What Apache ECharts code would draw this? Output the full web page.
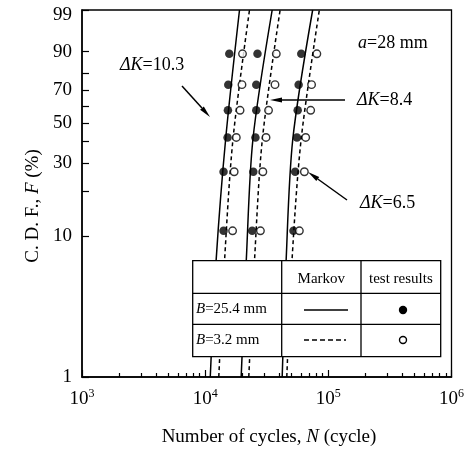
<!DOCTYPE html>
<html>
<head>
<meta charset="utf-8">
<script src="https://cdn.jsdelivr.net/npm/echarts@6/dist/echarts.min.js"></script>
<style>
html, body { margin: 0; padding: 0; background: #fff; }
#chart { width: 467px; height: 449px; }
</style>
</head>
<body>
<div id="chart"></div>
<script>
// probability levels (%) of the six test results (median ranks)
const ranks = [10.9, 26.6, 42.2, 57.8, 73.4, 89.1]
// test results, cycles to failure
const dk103Thick = [14100, 14100, 15200, 15300, 15400, 15700]
const dk103Thin = [16700, 17200, 17900, 19200, 19900, 20100]
const dk84Thick = [24100, 24600, 25600, 26000, 26000, 26600]
const dk84Thin = [28100, 29400, 31200, 32700, 36900, 37800]
const dk65Thick = [52100, 53800, 55600, 56400, 57400, 60300]
const dk65Thin = [58200, 63900, 65500, 71900, 73100, 80700]
// Markov curves, N read at these probability levels (%)
const curveF = [1, 7, 41, 99]
const dk103ThickCurve = [11000, 12300, 14650, 19000]
const dk103ThinCurve = [12900, 14400, 16800, 22900]
const dk84ThickCurve = [19600, 21600, 24400, 35000]
const dk84ThinCurve = [22600, 25200, 29100, 40600]
const dk65ThickCurve = [42200, 45500, 51400, 74600]
const dk65ThinCurve = [46000, 50800, 60100, 84500]
// tick labels
const yMajor = [1, 10, 30, 50, 70, 90, 99]
const yMinor = [20, 40, 60, 80]
const xMajor = [3, 4, 5, 6]
const xMinorMant = [2, 3, 4, 5, 6, 7, 8, 9]

// weibull probability paper
const wb = p => Math.log(-Math.log(1 - p / 100))
const pts = (ns, fs) => ns.map((n, i) => [Math.log10(n), wb(fs[i])])

let xMinor = []
xMajor.slice(0, 3).forEach(e => {
  xMinorMant.forEach(m => xMinor.push(e + Math.log10(m)))
})

const FONT = '"Liberation Serif", "DejaVu Serif", serif'

function dots (name, ns, open) {
  return {
    name: name,
    type: 'scatter',
    symbol: 'circle',
    symbolSize: open ? 7.5 : 8.5,
    itemStyle: open ? {color: '#fff', borderColor: '#000', borderWidth: 1.4} : {color: '#000'},
    z: 5,
    data: pts(ns, ranks)
  }
}
function curve (name, ns, dashed) {
  return {
    name: name,
    type: 'line',
    showSymbol: false,
    smooth: 0.3,
    lineStyle: {color: '#000', width: 1.5, type: dashed ? [4, 3] : 'solid'},
    z: 3,
    data: pts(ns, curveF)
  }
}

function arrow (x1, y1, x2, y2) {
  let a = Math.atan2(y2 - y1, x2 - x1)
  let len = 12
  let w = 2.5
  let bx = x2 - len * Math.cos(a)
  let by = y2 - len * Math.sin(a)
  let nx = -Math.sin(a) * w
  let ny = Math.cos(a) * w
  return [
    {type: 'line', shape: {x1: x1, y1: y1, x2: bx, y2: by}, style: {stroke: '#000', lineWidth: 1.5}},
    {type: 'polygon', shape: {points: [[x2, y2], [bx + nx, by + ny], [bx - nx, by - ny]]}, style: {fill: '#000'}}
  ]
}
function text (x, y, rich, size, align, rot) {
  return {
    type: 'text', x: x, y: y, rotation: rot || 0,
    style: {
      text: rich, fontFamily: FONT, fontSize: size, fill: '#000',
      align: align || 'left', verticalAlign: 'middle',
      rich: {
        i: {fontStyle: 'italic', fontFamily: FONT, fontSize: size},
        n: {fontFamily: FONT, fontSize: size}
      }
    }
  }
}

// legend table
const T = {l: 192.7, t: 260.7, r: 440.7, b: 356.7, c1: 281.7, c2: 361, r1: 293.3, r2: 324.3}
let table = [
  {type: 'rect', shape: {x: T.l, y: T.t, width: T.r - T.l, height: T.b - T.t}, style: {fill: '#fff', stroke: '#000', lineWidth: 1.3}},
  {type: 'line', shape: {x1: T.l, y1: T.r1, x2: T.r, y2: T.r1}, style: {stroke: '#000', lineWidth: 1.3}},
  {type: 'line', shape: {x1: T.l, y1: T.r2, x2: T.r, y2: T.r2}, style: {stroke: '#000', lineWidth: 1.3}},
  {type: 'line', shape: {x1: T.c1, y1: T.t, x2: T.c1, y2: T.b}, style: {stroke: '#000', lineWidth: 1.3}},
  {type: 'line', shape: {x1: T.c2, y1: T.t, x2: T.c2, y2: T.b}, style: {stroke: '#000', lineWidth: 1.3}},
  text((T.c1 + T.c2) / 2, 279, 'Markov', 15, 'center'),
  text((T.c2 + T.r) / 2, 279, 'test results', 15, 'center'),
  text(196, 309, '{i|B}{n|=25.4 mm}', 15),
  text(196, 340, '{i|B}{n|=3.2 mm}', 15),
  {type: 'line', shape: {x1: 304, y1: 310, x2: 348, y2: 310}, style: {stroke: '#000', lineWidth: 1.4}},
  {type: 'line', shape: {x1: 304, y1: 340, x2: 346, y2: 340}, style: {stroke: '#000', lineWidth: 1.4, lineDash: [5, 3]}},
  {type: 'circle', shape: {cx: 403, cy: 310, r: 4.2}, style: {fill: '#000'}},
  {type: 'circle', shape: {cx: 403, cy: 340, r: 3.5}, style: {fill: '#fff', stroke: '#000', lineWidth: 1.4}}
]

let notes = [].concat(
  text(120, 65, '{i|ΔK}{n|=10.3}', 18),
  arrow(182, 86, 210, 117),
  text(358, 43, '{i|a}{n|=28 mm}', 18),
  text(357, 100, '{i|ΔK}{n|=8.4}', 18),
  arrow(345, 100, 270, 100),
  text(360, 203, '{i|ΔK}{n|=6.5}', 18),
  arrow(347, 200, 308, 172),
  text(269, 437, '{n|Number of cycles, }{i|N}{n| (cycle)}', 19, 'center'),
  text(33, 206, '{n|C. D. F., }{i|F}{n| (%)}', 19, 'center', Math.PI / 2)
)
// keep the table and notes above the curves
table.forEach(el => { el.z = 100 })
notes.forEach(el => { el.z = 100 })

let myChart = echarts.init(document.getElementById('chart'))
myChart.setOption({
  animation: false,
  backgroundColor: '#fff',
  grid: {left: 82, top: 10, width: 370.5, height: 367, show: true, borderColor: '#000', borderWidth: 1.3, backgroundColor: 'transparent'},
  xAxis: [
    {
      type: 'value', min: 3, max: 6, interval: 1, position: 'bottom',
      axisLine: {onZero: false, lineStyle: {color: '#000', width: 1.5}},
      axisTick: {inside: true, length: 7, lineStyle: {color: '#000', width: 1.2}},
      splitLine: {show: false},
      axisLabel: {
        margin: 11,
        formatter: v => '{b|10}{s|' + v + '}',
        rich: {
          b: {fontFamily: FONT, fontSize: 19, color: '#000', verticalAlign: 'bottom', lineHeight: 21},
          s: {fontFamily: FONT, fontSize: 12, color: '#000', verticalAlign: 'top', lineHeight: 21}
        }
      }
    },
    {
      type: 'value', min: 3, max: 6, position: 'bottom',
      axisLine: {show: false, onZero: false},
      axisTick: {inside: true, length: 4, customValues: xMinor, lineStyle: {color: '#000', width: 1.2}},
      splitLine: {show: false},
      axisLabel: {show: false}
    }
  ],
  yAxis: {
    type: 'value', min: wb(1), max: wb(99),
    axisLine: {show: true, onZero: false, lineStyle: {color: '#000', width: 1.5}},
    axisTick: {show: true, inside: true, length: 7, customValues: yMajor.concat(yMinor).map(wb), lineStyle: {color: '#000', width: 1.2}},
    splitLine: {show: false},
    axisLabel: {
      margin: 10,
      customValues: yMajor.map(wb),
      formatter: v => {
        let p = Math.round((1 - Math.exp(-Math.exp(v))) * 100)
        // top label sits a little below the frame, as in the original
        return p === 99 ? '{t|' + p + '}' : '{n|' + p + '}'
      },
      rich: {
        n: {fontFamily: FONT, fontSize: 19, color: '#000'},
        t: {fontFamily: FONT, fontSize: 19, color: '#000', padding: [10, 0, 0, 0]}
      }
    }
  },
  series: [
    curve('dK10.3 B25.4', dk103ThickCurve, false),
    curve('dK10.3 B3.2', dk103ThinCurve, true),
    curve('dK8.4 B25.4', dk84ThickCurve, false),
    curve('dK8.4 B3.2', dk84ThinCurve, true),
    curve('dK6.5 B25.4', dk65ThickCurve, false),
    curve('dK6.5 B3.2', dk65ThinCurve, true),
    dots('dK10.3 B25.4 test', dk103Thick, false),
    dots('dK10.3 B3.2 test', dk103Thin, true),
    dots('dK8.4 B25.4 test', dk84Thick, false),
    dots('dK8.4 B3.2 test', dk84Thin, true),
    dots('dK6.5 B25.4 test', dk65Thick, false),
    dots('dK6.5 B3.2 test', dk65Thin, true)
  ],
  graphic: [
    {type: 'group', children: table},
    {type: 'group', children: notes}
  ]
})
</script>
</body>
</html>
